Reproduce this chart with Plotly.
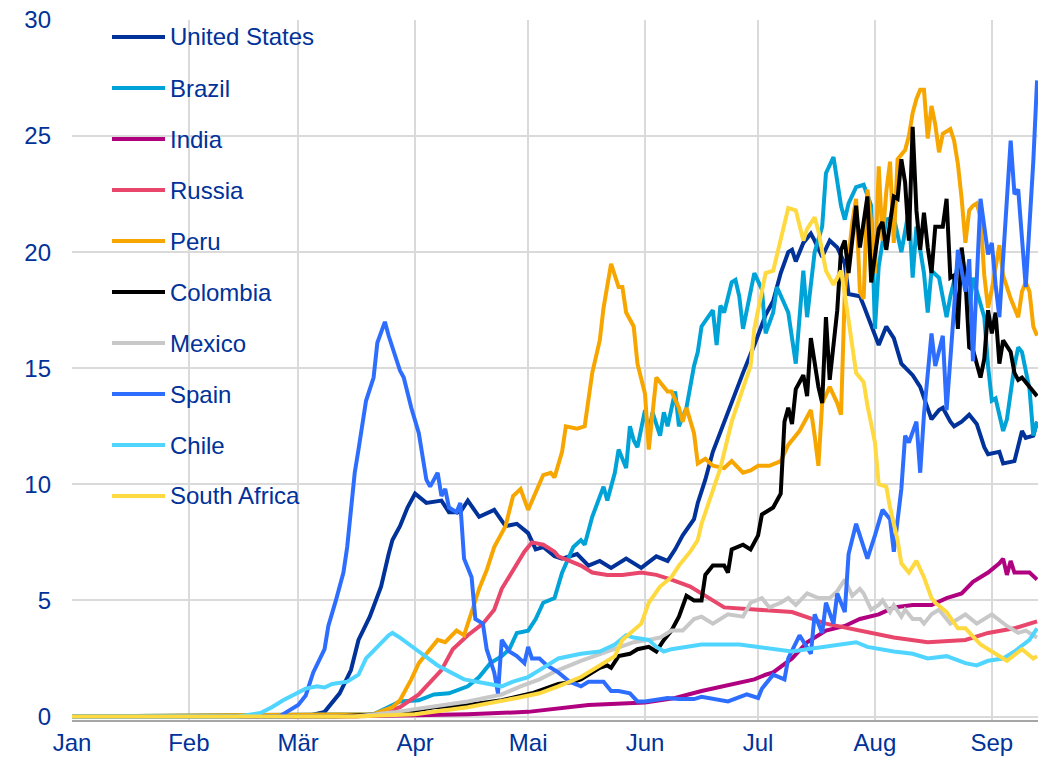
import pandas as pd
import plotly.graph_objects as go

START = pd.Timestamp("2020-01-01")
TEXT = "#003299"
FONT = "Liberation Sans, Arial, sans-serif"

month_ticks = ["2020-01-01", "2020-02-01", "2020-03-01", "2020-04-01", "2020-05-01",
               "2020-06-01", "2020-07-01", "2020-08-01", "2020-09-01"]
month_labels = ["Jan", "Feb", "Mär", "Apr", "Mai", "Jun", "Jul", "Aug", "Sep"]
y_ticks = [0, 5, 10, 15, 20, 25, 30]

countries = ["United States", "Brazil", "India", "Russia", "Peru",
             "Colombia", "Mexico", "Spain", "Chile", "South Africa"]
colors = ["#003299", "#00A3D7", "#B0007F", "#E8466A", "#F7A600",
          "#000000", "#C8C8C8", "#2E6EFF", "#4FD5FF", "#FFD940"]

# day = days since 1 Jan 2020
us_day = [0, 62, 67, 71, 74, 76, 79, 82, 84, 85, 87, 89, 91, 94, 98, 100, 103, 105, 108, 112,
          115, 118, 121, 123, 125, 128, 130, 134, 137, 140, 143, 147, 151, 155, 158, 160, 162, 165, 166, 168,
          170, 173, 176, 178, 181, 184, 186, 188, 190, 191, 192, 194, 196, 197, 199, 201, 203, 205, 206, 209,
          210, 212, 214, 216, 218, 220, 222, 223, 225, 227, 228, 230, 231, 233, 234, 236, 238, 240, 242, 243,
          246, 247, 250, 252, 253, 255, 256]
us_val = [0, 0, 0.2, 1.0, 2.0, 3.3, 4.3, 5.6, 7.0, 7.6, 8.2, 9.0, 9.6, 9.2, 9.3, 8.8, 8.8, 9.3, 8.6, 8.9,
          8.2, 8.3, 7.9, 7.2, 7.3, 6.9, 6.8, 7.0, 6.5, 6.7, 6.4, 6.8, 6.4, 6.9, 6.7, 7.2, 7.8, 8.5, 9.2, 10.2,
          11.4, 12.7, 13.9, 14.8, 16.0, 17.3, 17.9, 19.1, 20.0, 20.1, 19.6, 20.4, 20.8, 20.5, 19.8, 20.5, 20.2, 19.5, 18.2, 18.1,
          17.7, 16.8, 16.0, 16.8, 16.3, 15.2, 14.9, 14.7, 14.2, 13.2, 12.8, 13.2, 13.3, 12.7, 12.5, 12.7, 13.0, 12.6, 11.6, 11.3,
          11.4, 10.9, 11.0, 12.3, 12.0, 12.1, 12.7]

br_day = [0, 80, 87, 92, 96, 100, 105, 108, 111, 114, 116, 118, 121, 123, 125, 128, 130, 133, 135, 136,
          138, 141, 142, 144, 145, 147, 148, 149, 150, 152, 153, 154, 156, 157, 158, 160, 161, 163, 165, 166,
          167, 170, 171, 172, 173, 175, 176, 177, 178, 180, 181, 183, 184, 186, 187, 190, 192, 194, 195, 197,
          199, 200, 202, 204, 205, 206, 208, 210, 212, 213, 214, 216, 218, 220, 222, 223, 224, 226, 227, 228,
          230, 232, 233, 236, 238, 239, 242, 243, 244, 245, 247, 248, 250, 251, 252, 254, 255, 256]
br_val = [0, 0.1, 0.65, 0.7, 0.95, 1.0, 1.3, 1.7, 2.3, 2.6, 2.9, 3.6, 3.7, 4.2, 4.9, 5.1, 6.2, 7.3, 7.6, 7.4,
          8.6, 9.9, 9.3, 10.5, 11.5, 10.7, 12.5, 11.9, 11.6, 13.2, 12.2, 13.1, 12.1, 13.1, 12.5, 14.0, 12.5, 13.3, 15.1, 15.7,
          16.8, 17.5, 16.0, 17.7, 17.4, 18.7, 18.8, 18.1, 16.7, 18.3, 19.1, 18.4, 16.5, 17.4, 18.5, 17.4, 15.2, 19.2, 17.2, 20.0,
          21.1, 23.4, 24.1, 22.0, 21.4, 22.1, 22.8, 22.9, 22.0, 16.7, 19.4, 21.4, 21.5, 20.0, 21.8, 18.9, 21.1, 19.1, 17.4, 19.2,
          18.9, 17.2, 18.1, 20.1, 17.4, 18.9, 17.2, 15.1, 13.6, 13.7, 12.3, 12.8, 15.1, 15.9, 15.7, 14.1, 12.1, 12.7]

in_day = [0, 70, 91, 105, 121, 129, 137, 152, 160, 167, 175, 181, 184, 186, 191, 195, 200, 205, 209, 214,
          218, 223, 228, 232, 236, 239, 243, 246, 247, 248, 249, 250, 254, 256]
in_val = [0, 0, 0.05, 0.1, 0.2, 0.35, 0.5, 0.6, 0.8, 1.1, 1.4, 1.6, 1.8, 1.9, 2.5, 3.2, 3.7, 3.9, 4.2, 4.4,
          4.7, 4.8, 4.8, 5.1, 5.3, 5.8, 6.2, 6.6, 6.8, 6.1, 6.7, 6.2, 6.2, 5.9]

ru_day = [0, 75, 82, 87, 92, 98, 101, 105, 109, 112, 114, 117, 120, 122, 125, 128, 129, 132, 135, 138,
          142, 146, 151, 155, 159, 164, 167, 173, 182, 191, 200, 209, 218, 227, 237, 243, 250, 256]
ru_val = [0, 0, 0.1, 0.4, 0.95, 2.0, 2.9, 3.5, 4.0, 4.6, 5.5, 6.3, 7.1, 7.5, 7.4, 7.1, 6.9, 6.7, 6.5, 6.2,
          6.1, 6.1, 6.2, 6.1, 5.9, 5.6, 5.3, 4.7, 4.6, 4.5, 4.0, 3.7, 3.4, 3.2, 3.3, 3.6, 3.8, 4.1]

pe_day = [0, 80, 85, 87, 90, 92, 94, 97, 99, 102, 104, 106, 108, 110, 112, 114, 115, 117, 119, 121,
          123, 125, 127, 128, 130, 131, 134, 136, 138, 140, 141, 143, 145, 146, 147, 149, 150, 152, 153, 155,
          156, 158, 159, 161, 162, 163, 165, 166, 168, 170, 173, 175, 178, 180, 182, 185, 188, 190, 193, 196,
          197, 198, 199, 201, 203, 204, 205, 207, 208, 209, 210, 211, 212, 213, 214, 215, 216, 217, 218, 219,
          221, 222, 223, 224, 225, 226, 227, 228, 229, 230, 231, 233, 234, 235, 236, 237, 238, 239, 240, 241,
          242, 243, 244, 246, 247, 249, 251, 252, 253, 254, 255, 256]
pe_val = [0, 0.1, 0.4, 0.7, 1.6, 2.3, 2.7, 3.3, 3.2, 3.7, 3.5, 4.5, 5.5, 6.3, 7.3, 7.9, 8.2, 9.5, 9.8, 8.9,
          9.6, 10.4, 10.5, 10.3, 11.4, 12.5, 12.4, 12.5, 14.8, 16.2, 17.6, 19.5, 18.5, 18.5, 17.4, 16.8, 15.2, 13.9, 11.5, 14.6,
          14.4, 14.0, 14.0, 13.3, 12.7, 13.3, 12.2, 10.9, 11.1, 10.8, 10.7, 11.0, 10.5, 10.6, 10.8, 10.8, 11.0, 11.7, 12.3, 13.2,
          12.1, 10.8, 13.5, 14.2, 13.5, 13.0, 18.3, 21.3, 22.3, 18.3, 18.0, 22.7, 21.3, 19.1, 23.7, 20.5, 22.6, 23.9, 20.4, 24.0,
          24.4, 25.0, 26.0, 26.6, 27.0, 27.0, 24.9, 26.3, 25.5, 24.3, 25.1, 25.3, 24.8, 23.8, 22.3, 20.4, 21.8, 22.0, 22.1, 21.5,
          19.0, 17.6, 18.4, 20.3, 19.0, 18.0, 17.2, 18.3, 18.7, 18.3, 16.8, 16.4]

co_day = [0, 70, 82, 91, 96, 105, 114, 122, 129, 133, 135, 138, 140, 142, 143, 145, 148, 150, 153, 155,
          157, 159, 161, 163, 165, 167, 168, 170, 173, 174, 175, 178, 180, 182, 183, 186, 188, 189, 190, 191,
          192, 193, 194, 195, 196, 198, 199, 200, 201, 203, 204, 205, 206, 208, 209, 211, 212, 214, 215, 216,
          218, 219, 220, 221, 222, 223, 224, 225, 226, 227, 228, 229, 231, 232, 233, 234, 235, 236, 237, 238,
          239, 241, 242, 243, 244, 245, 246, 247, 249, 250, 251, 252, 254, 256]
co_val = [0, 0, 0.1, 0.25, 0.4, 0.5, 0.7, 1.0, 1.4, 1.5, 1.6, 1.9, 2.1, 2.2, 2.1, 2.6, 2.7, 2.9, 3.0, 2.8,
          3.3, 3.7, 4.3, 5.2, 5.0, 5.0, 6.1, 6.5, 6.5, 6.2, 7.2, 7.4, 7.2, 7.8, 8.7, 9.0, 9.6, 12.7, 13.3, 12.6,
          14.1, 14.4, 14.7, 13.8, 16.3, 14.2, 13.5, 17.2, 14.5, 17.5, 20.1, 20.5, 19.1, 22.0, 20.2, 22.4, 18.7, 21.0, 21.3, 20.1,
          22.4, 22.3, 24.0, 23.0, 20.5, 25.4, 21.8, 20.1, 21.7, 20.2, 19.1, 21.1, 21.1, 22.3, 18.9, 19.0, 16.7, 20.2, 18.8, 15.9,
          15.8, 14.6, 15.4, 17.5, 16.5, 17.4, 15.2, 16.2, 15.7, 14.8, 14.5, 14.6, 14.2, 13.8]

mx_day = [0, 75, 86, 96, 105, 114, 119, 124, 129, 135, 140, 145, 149, 153, 156, 159, 162, 165, 167, 170,
          174, 178, 180, 183, 185, 188, 190, 192, 195, 198, 201, 203, 205, 207, 209, 210, 212, 214, 215, 217,
          218, 220, 221, 223, 225, 226, 228, 230, 232, 233, 236, 237, 240, 242, 244, 248, 251, 253, 256]
mx_val = [0, 0, 0.2, 0.45, 0.65, 0.95, 1.3, 1.6, 2.0, 2.4, 2.7, 3.0, 3.2, 3.3, 3.4, 3.7, 3.7, 4.2, 4.3, 4.0,
          4.4, 4.3, 4.9, 5.1, 4.7, 4.9, 5.1, 4.8, 5.3, 5.1, 5.1, 5.4, 5.9, 5.2, 5.5, 5.3, 4.6, 4.8, 5.0, 4.5,
          4.8, 4.3, 4.6, 4.2, 4.2, 4.0, 4.4, 4.6, 4.2, 4.0, 4.3, 4.4, 4.0, 4.2, 4.4, 3.9, 3.6, 3.7, 3.4]

sp_day = [0, 55, 57, 60, 62, 64, 67, 68, 70, 72, 73, 74, 75, 76, 77, 78, 80, 81, 83, 84,
          87, 88, 90, 92, 94, 95, 97, 98, 99, 100, 102, 103, 104, 106, 107, 109, 110, 112, 113, 114,
          116, 118, 120, 121, 122, 124, 126, 129, 132, 135, 137, 141, 143, 145, 148, 150, 152, 158, 161, 165,
          167, 174, 179, 182, 183, 186, 189, 190, 193, 196, 197, 199, 200, 202, 203, 205, 206, 208, 210, 211,
          213, 215, 217, 218, 220, 221, 222, 224, 225, 226, 228, 229, 231, 232, 234, 235, 237, 238, 239, 241,
          243, 244, 245, 246, 249, 250, 251, 253, 255, 256]
sp_val = [0, 0, 0.2, 0.5, 0.9, 1.9, 2.9, 3.9, 5.0, 6.2, 7.3, 8.8, 10.5, 11.5, 12.7, 13.6, 14.6, 16.1, 17.0, 16.4,
          14.9, 14.6, 13.3, 12.2, 10.2, 9.9, 10.5, 9.5, 9.8, 9.0, 8.8, 9.2, 6.8, 6.0, 4.2, 4.0, 2.9, 1.9, 1.0, 3.3,
          2.8, 2.6, 2.3, 3.0, 2.5, 2.5, 2.2, 1.9, 1.5, 1.3, 1.5, 1.5, 1.1, 1.1, 1.0, 0.65, 0.65, 0.8, 0.75, 0.75,
          0.85, 0.65, 0.95, 0.8, 1.2, 1.8, 1.6, 2.5, 3.5, 2.7, 4.4, 3.6, 4.9, 4.0, 5.3, 4.5, 7.0, 8.3, 7.3, 6.8,
          7.8, 8.9, 8.5, 7.1, 9.8, 12.1, 11.8, 12.7, 10.5, 13.0, 16.5, 15.1, 16.4, 13.2, 17.6, 20.1, 18.3, 19.7, 15.3, 22.3,
          19.9, 20.4, 18.6, 17.2, 24.8, 22.5, 22.7, 18.5, 23.9, 27.4]

cl_day = [0, 44, 50, 53, 56, 59, 62, 65, 67, 69, 73, 76, 78, 81, 84, 85, 87, 92, 97, 104,
          110, 114, 117, 121, 124, 129, 135, 140, 144, 147, 149, 153, 155, 157, 159, 163, 167, 177, 191, 195,
          205, 208, 211, 214, 218, 223, 227, 232, 237, 240, 243, 247, 250, 254, 256]
cl_val = [0, 0, 0.15, 0.4, 0.7, 0.95, 1.2, 1.3, 1.25, 1.4, 1.5, 1.8, 2.5, 3.0, 3.5, 3.6, 3.4, 2.8, 2.2, 1.6,
          1.4, 1.3, 1.5, 1.7, 2.0, 2.5, 2.7, 2.8, 3.1, 3.5, 3.4, 3.3, 3.0, 2.8, 2.9, 3.0, 3.1, 3.1, 2.8, 2.9,
          3.1, 3.2, 3.0, 2.9, 2.8, 2.7, 2.5, 2.6, 2.3, 2.2, 2.4, 2.5, 2.8, 3.3, 3.8]

sa_day = [0, 75, 91, 105, 118, 124, 129, 135, 140, 144, 146, 149, 151, 153, 156, 159, 161, 164, 166, 167,
          170, 172, 175, 178, 180, 181, 183, 184, 186, 188, 190, 192, 194, 195, 197, 198, 200, 202, 204, 205,
          207, 208, 210, 211, 213, 214, 216, 217, 219, 220, 222, 224, 226, 228, 229, 232, 235, 237, 241, 245,
          248, 252, 255, 256]
sa_val = [0, 0, 0.1, 0.4, 0.8, 1.0, 1.3, 1.7, 2.2, 2.6, 3.3, 3.7, 4.0, 4.9, 5.6, 6.0, 6.5, 7.1, 7.6, 8.3,
          9.8, 10.7, 12.7, 14.2, 15.1, 16.7, 18.2, 19.1, 19.2, 20.6, 21.9, 21.8, 20.5, 21.0, 21.5, 20.9, 19.2, 18.6, 19.2, 18.2,
          16.0, 14.8, 14.4, 13.4, 11.8, 10.0, 9.9, 9.0, 7.6, 6.6, 6.2, 6.7, 6.0, 5.1, 4.9, 4.5, 3.8, 3.8, 3.1, 2.7,
          2.4, 2.9, 2.5, 2.6]

series = [(us_day, us_val), (br_day, br_val), (in_day, in_val), (ru_day, ru_val), (pe_day, pe_val),
          (co_day, co_val), (mx_day, mx_val), (sp_day, sp_val), (cl_day, cl_val), (sa_day, sa_val)]

fig = go.Figure()
for name, color, (days, vals) in zip(countries, colors, series):
    x = START + pd.to_timedelta(days, unit="D")
    fig.add_trace(go.Scatter(x=x, y=vals, mode="lines", name=name,
                             line=dict(color=color, width=4), showlegend=False))

# legend drawn as line swatches + labels
PLOT_W, PLOT_H, M_L, M_T = 966, 700, 72, 20
for i, (name, color) in enumerate(zip(countries, colors)):
    py = 37 + 51 * i
    yp = (M_T + PLOT_H - py) / PLOT_H
    fig.add_shape(type="line", xref="paper", yref="paper",
                  x0=(112 - M_L) / PLOT_W, x1=(165 - M_L) / PLOT_W, y0=yp, y1=yp,
                  line=dict(color=color, width=4))
    fig.add_annotation(xref="paper", yref="paper", x=(168 - M_L) / PLOT_W, y=yp,
                       text=name, showarrow=False, xanchor="left", yanchor="middle",
                       font=dict(family=FONT, size=24, color=TEXT))

fig.update_layout(
    width=1038, height=759,
    margin=dict(l=M_L, r=0, t=M_T, b=39),
    paper_bgcolor="white", plot_bgcolor="white",
    font=dict(family=FONT, size=24, color=TEXT),
    showlegend=False,
    xaxis=dict(type="date", range=[START, START + pd.Timedelta(days=256.25)],
               tickvals=month_ticks, ticktext=month_labels,
               showgrid=True, gridcolor="#DADADA", gridwidth=2,
               showline=True, linecolor="#A6A6A6", linewidth=2,
               ticks="", zeroline=False,
               tickfont=dict(family=FONT, size=24, color=TEXT)),
    yaxis=dict(range=[-0.15, 30], tickvals=y_ticks,
               showgrid=True, gridcolor="#DADADA", gridwidth=2,
               zeroline=False, showline=False, ticks="",
               ticklabelstandoff=20,
               tickfont=dict(family=FONT, size=24, color=TEXT)),
)

fig.write_html("out.html", config={"displayModeBar": False},
               post_script="document.body.style.margin='0px';document.body.style.overflow='hidden';")
